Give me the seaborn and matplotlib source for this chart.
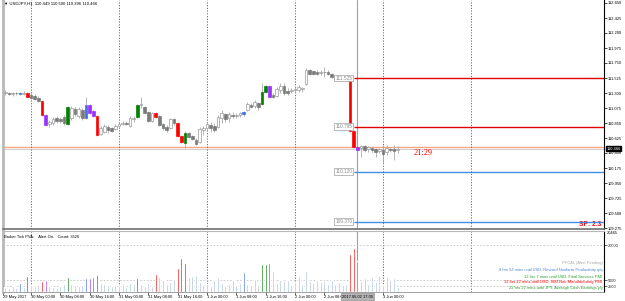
import numpy as np
import pandas as pd
import matplotlib
matplotlib.use('Agg')
import matplotlib.pyplot as plt
import matplotlib.transforms as mtrans
import seaborn as sns

# USDJPY H1 candles (bar 0 = 29 May 17:00)
opens = [111.300, 111.300, 111.285, 111.300, 111.300, 111.285, 111.300, 111.270, 111.255, 111.225,
         111.180, 110.970, 110.835, 110.850, 110.925, 110.910, 110.940, 110.835, 110.925, 111.060,
         110.955, 111.045, 110.925, 111.120, 111.030, 110.955, 110.685, 110.715, 110.790, 110.775,
         110.760, 110.805, 110.835, 110.850, 110.805, 110.910, 110.940, 111.120, 111.090, 111.015,
         110.880, 111.000, 110.955, 110.835, 110.790, 110.775, 110.910, 110.850, 110.655, 110.550,
         110.700, 110.655, 110.595, 110.565, 110.745, 110.775, 110.820, 110.805, 110.790, 110.925,
         110.985, 110.925, 110.970, 110.955, 110.970, 110.985, 111.045, 111.120, 111.105, 111.150,
         111.135, 111.315, 111.405, 111.270, 111.255, 111.345, 111.405, 111.330, 111.330, 111.345,
         111.345, 111.360, 111.435, 111.645, 111.630, 111.615, 111.600, 111.615, 111.615, 111.585,
         111.555, 111.525, 111.510, 111.495, 111.525, 110.730, 110.490, 110.475, 110.505, 110.460,
         110.475, 110.460, 110.430, 110.445, 110.415, 110.460, 110.460, 110.449]
closes = [111.315, 111.285, 111.300, 111.295, 111.285, 111.300, 111.240, 111.225, 111.210, 111.180,
          110.970, 110.820, 110.865, 110.910, 110.880, 110.880, 110.850, 111.090, 111.075, 110.985,
          111.060, 110.925, 111.120, 111.000, 110.955, 110.670, 110.775, 110.805, 110.745, 110.730,
          110.805, 110.835, 110.850, 110.835, 110.925, 110.925, 111.120, 111.135, 111.000, 110.880,
          111.000, 110.940, 110.820, 110.775, 110.745, 110.910, 110.850, 110.655, 110.565, 110.700,
          110.640, 110.610, 110.535, 110.760, 110.775, 110.835, 110.775, 110.745, 110.940, 111.000,
          110.910, 110.985, 110.955, 110.970, 111.000, 111.015, 111.135, 111.090, 111.165, 111.090,
          111.315, 111.405, 111.240, 111.240, 111.360, 111.405, 111.300, 111.300, 111.345, 111.360,
          111.390, 111.375, 111.645, 111.585, 111.585, 111.585, 111.615, 111.610, 111.585, 111.540,
          111.510, 111.495, 111.495, 111.510, 110.730, 110.490, 110.445, 110.505, 110.445, 110.490,
          110.445, 110.415, 110.460, 110.385, 110.475, 110.445, 110.430, 110.466]
highs = [111.345, 111.315, 111.315, 111.315, 111.315, 111.330, 111.315, 111.300, 111.285, 111.255,
         111.195, 110.985, 110.895, 110.940, 110.955, 110.940, 110.970, 111.105, 111.105, 111.090,
         111.090, 111.075, 111.240, 111.135, 111.045, 110.970, 110.805, 110.835, 110.820, 110.790,
         110.835, 110.865, 110.880, 110.880, 110.955, 110.955, 111.135, 111.240, 111.105, 111.030,
         111.015, 111.015, 110.970, 110.850, 110.820, 110.925, 110.925, 110.865, 110.670, 110.730,
         110.715, 110.670, 110.625, 110.790, 110.805, 110.865, 110.865, 110.850, 110.970, 111.045,
         111.000, 111.015, 111.015, 111.000, 111.015, 111.030, 111.165, 111.150, 111.195, 111.165,
         111.450, 111.420, 111.420, 111.300, 111.390, 111.450, 111.450, 111.375, 111.375, 111.390,
         111.420, 111.390, 111.675, 111.660, 111.645, 111.645, 111.645, 111.690, 111.645, 111.600,
         111.570, 111.570, 111.540, 111.540, 111.540, 110.745, 110.505, 110.520, 110.520, 110.505,
         110.490, 110.475, 110.475, 110.520, 110.520, 110.490, 110.520, 110.500]
lows = [111.270, 111.270, 111.255, 111.270, 111.270, 111.270, 111.235, 111.210, 111.195, 111.165,
        110.955, 110.805, 110.790, 110.820, 110.850, 110.850, 110.820, 110.820, 110.895, 110.955,
        110.925, 110.895, 110.910, 110.985, 110.940, 110.655, 110.670, 110.700, 110.700, 110.715,
        110.745, 110.790, 110.820, 110.820, 110.790, 110.865, 110.925, 111.075, 110.985, 110.865,
        110.865, 110.925, 110.805, 110.745, 110.715, 110.760, 110.820, 110.640, 110.550, 110.475,
        110.625, 110.595, 110.520, 110.550, 110.670, 110.730, 110.715, 110.715, 110.775, 110.850,
        110.865, 110.865, 110.925, 110.925, 110.940, 110.955, 111.030, 111.075, 111.075, 111.045,
        111.120, 111.300, 111.225, 111.225, 111.240, 111.300, 111.270, 111.270, 111.300, 111.300,
        111.315, 111.315, 111.420, 111.570, 111.570, 111.570, 111.570, 111.540, 111.570, 111.525,
        111.495, 111.480, 111.480, 111.480, 110.715, 110.475, 110.440, 110.340, 110.415, 110.415,
        110.415, 110.340, 110.400, 110.250, 110.370, 110.415, 110.295, 110.396]
volumes = [2200, 1800, 2500, 1600, 3800, 2000, 6800, 3000, 2400, 2800,
           4700, 5100, 2600, 2200, 1900, 2500, 3200, 6400, 3400, 2900,
           2500, 3000, 6000, 6000, 6400, 7200, 4000, 3300, 2800, 2400,
           3000, 2600, 3600, 2200, 3800, 3200, 6000, 3400, 2700, 3900,
           2600, 7700, 6400, 5200, 3300, 4200, 5500, 10200, 14500, 12300,
           6500, 7000, 7200, 4300, 2800, 3300, 2600, 5200, 6600, 3900,
           2700, 3600, 5200, 3000, 3800, 8500, 3500, 2900, 5500, 2800,
           11900, 11900, 12300, 8900, 3700, 5300, 4600, 5200, 3000, 4200,
           6800, 3600, 8900, 4500, 3800, 5200, 4100, 4700, 3500, 5000,
           3200, 4300, 2800, 3600, 16200, 18700, 13200, 4500, 6000, 3200,
           6300, 4200, 6800, 3000, 6200, 5000, 5800, 2000]
# PVA class of every bar: n normal, r red, g green, b blue, p purple
bar_kinds = list("nnnnbnrnnn" "rpnnnnngnn" "nnbpprnnnn" "nnnnnngnnn" "nrnnnnnrrg"
                 "nnnnnnnnnn" "nnnnnbnnnn" "ggpnnnnnnn" "nnnnnnnnnn" "nnnnrrpnnn" "nnnnnnnn")

kind_colors = {'n': '#a9bfdc', 'r': '#ff0000', 'g': '#008000', 'b': '#3a6ee8', 'p': '#9b30ff'}

time_bars = [-0.5, 7, 15, 23, 31, 39, 47, 55, 63, 71, 79, 87, 103]
time_labels = ['29 May 2017', '30 May 00:00', '30 May 08:00', '30 May 16:00', '31 May 00:00',
               '31 May 08:00', '31 May 16:00', '1 Jun 00:00', '1 Jun 08:00', '1 Jun 16:00',
               '2 Jun 00:00', '2 Jun 08:00', '3 Jun 00:00']
day_breaks = [7, 31, 55, 79, 103, 127]
cursor_bar = 96
cursor_label = '2017.06.02 17:00'

level_prices = [111.525, 110.795, 110.120, 109.370]
level_labels = ['111.525', '110.795', '110.120', '109.370']
level_colors = ['#e00000', '#e00000', '#3f8fe8', '#3f8fe8']

price_ticks = [109.275, 109.500, 109.725, 109.950, 110.175, 110.400, 110.625, 110.850,
               111.075, 111.300, 111.525, 111.750, 111.975, 112.200, 112.425, 112.650]
bid_price = 110.466
vol_ticks = [20000, 5000, 2500]
vol_top_label = '20465'

news_lines = ['PFCAL (Alert Pending)',
              '8 hrs 52 mins until USD: Revised Nonfarm Productivity q/q',
              '12 hrs 7 mins until USD: Final Services PMI',
              '12 hrs 22 mins until USD: ISM Non-Manufacturing PMI',
              '22 hrs 22 mins until JPY: Average Cash Earnings y/y']
news_colors = ['#a8a8a8', '#4a7fd4', '#22a022', '#ff0000', '#22a022']

sns.set_theme(style='white')
plt.rcParams['font.family'] = ['Liberation Sans', 'DejaVu Sans']

W, H = 625, 301
fig = plt.figure(figsize=(W / 100, H / 100), dpi=100)
fig.patch.set_facecolor('white')
ax = fig.add_axes([3 / W, 1 - 229 / H, 601 / W, 229 / H])
axv = fig.add_axes([3 / W, 1 - 292 / H, 601 / W, 61 / H])

x0, x1 = -0.63, 163.27
idx = np.arange(len(opens))

# candles
o = np.array(opens)
c = np.array(closes)
ax.vlines(idx, lows, highs, color='#a8a8a8', lw=0.6, zorder=2)
for i in idx:
    k = bar_kinds[i]
    body = max(abs(c[i] - o[i]), 0.004)
    bottom = min(o[i], c[i])
    if k != 'n':
        fc, ec = kind_colors[k], kind_colors[k]
    elif c[i] >= o[i]:
        fc, ec = 'white', '#9a9a9a'
    else:
        fc, ec = '#7a7a7a', '#7a7a7a'
    ax.bar(i, body, bottom=bottom, width=0.68, color=fc, edgecolor=ec, lw=0.5, zorder=3)

ax.set_xlim(x0, x1)
ax.set_ylim(109.26, 112.695)

# bid / ask lines
ax.axhline(110.486, color='#f4a582', lw=1.0, zorder=1)
ax.axhline(bid_price, color='#c8c8c8', lw=0.6, zorder=1)

# levels with their price boxes
for p, lab, col in zip(level_prices, level_labels, level_colors):
    ax.hlines(p, 95, x1, color=col, lw=1.0, zorder=4)
    ax.text(94.6, p, lab, ha='right', va='center', fontsize=3.4, color='#8a8a8a',
            bbox=dict(fc='white', ec='#a0a0a0', lw=0.5, pad=0.6), zorder=5)

for b in day_breaks:
    ax.axvline(b, color='#6a6a6a', lw=0.7, ls=(0, (1.2, 1.6)), zorder=1)
    axv.axvline(b, color='#6a6a6a', lw=0.7, ls=(0, (1.2, 1.6)), zorder=1)
ax.axvline(cursor_bar, color='#a0a0a0', lw=0.8, zorder=1)
axv.axvline(cursor_bar, color='#a0a0a0', lw=0.8, zorder=1)

ax.text(114, 110.40, '21:29', color='#ff0000', fontsize=6, ha='center', va='center',
        family=['Liberation Serif', 'DejaVu Serif'])
ax.text(162.6, 109.33, 'SP: 2.3', color='#ff0000', fontsize=4.8, fontweight='bold',
        ha='right', va='center')

# right price scale
ax.yaxis.tick_right()
ax.set_yticks(price_ticks)
ax.set_yticklabels([f'{t:.3f}' for t in price_ticks])
ax.tick_params(axis='y', labelsize=2.9, length=2, width=0.5, pad=1, colors='black', right=True)
ax.set_xticks([])
ax.text(1.004, bid_price, f'{bid_price:.3f}', transform=mtrans.blended_transform_factory(ax.transAxes, ax.transData),
        ha='left', va='center', fontsize=2.9, color='white',
        bbox=dict(fc='black', ec='black', pad=0.6), clip_on=False)

ax.spines['top'].set_visible(False)
ax.spines['left'].set_color('#b8b8b8')
ax.spines['left'].set_linewidth(2)
ax.spines['right'].set_color('black')
ax.spines['right'].set_linewidth(0.8)
ax.spines['bottom'].set_color('#707070')
ax.spines['bottom'].set_linewidth(1.2)

fig.text(4 / W, 1 - 3.5 / H, '\u25bc USDJPY,H1  110.449 110.500 110.396 110.466',
         fontsize=3.1, ha='left', va='center', color='black')

# volume panel
vol_df = pd.DataFrame({'bar': idx, 'volume': volumes, 'kind': bar_kinds})
sns.barplot(data=vol_df, x='bar', y='volume', hue='kind', palette=kind_colors,
            dodge=False, native_scale=True, width=0.62, saturation=1,
            errorbar=None, legend=False, ax=axv, zorder=3)
axv.set_xlim(x0, x1)
axv.set_ylim(0, 26000)
axv.set_xlabel('')
axv.set_ylabel('')
for v in vol_ticks:
    axv.axhline(v, color='#c4c4c4', lw=0.6, ls=(0, (2, 2)), zorder=1)
axv.yaxis.tick_right()
axv.set_yticks(vol_ticks)
axv.set_yticklabels([str(v) for v in vol_ticks])
axv.tick_params(axis='y', labelsize=2.9, length=2, width=0.5, pad=1, right=True)
axv.text(1.004, 0.97, vol_top_label, transform=axv.transAxes, ha='left', va='center',
         fontsize=2.9, color='black')
axv.set_xticks(time_bars)
axv.set_xticklabels([])
axv.tick_params(axis='x', length=2, width=0.5, bottom=True, direction='out')

for s in ['left', 'top']:
    axv.spines[s].set_color('#b8b8b8')
axv.spines['left'].set_linewidth(2)
axv.spines['top'].set_linewidth(0.8)
axv.spines['right'].set_color('black')
axv.spines['right'].set_linewidth(0.8)
axv.spines['bottom'].set_color('#909090')
axv.spines['bottom'].set_linewidth(0.6)

axv.text(0.002, 0.9, 'Broker Tick PVA:    Alert On.   Count: 3526', transform=axv.transAxes,
         fontsize=2.9, ha='left', va='center', color='black')
news_y = [263, 270.5, 276.5, 282, 287.5]
for txt, col, y in zip(news_lines, news_colors, news_y):
    fig.text(602.5 / W, 1 - y / H, txt, color=col, fontsize=2.9, ha='right', va='center')

tx = mtrans.blended_transform_factory(axv.transData, axv.transAxes)
for b, lab in zip(time_bars, time_labels):
    axv.text(b, -0.075, lab, transform=tx, ha='left', va='center', fontsize=2.9,
             color='black', clip_on=False, zorder=4)
# cursor date box sits on top of the 2 Jun 08:00 label, as in the terminal
axv.text(cursor_bar, -0.075, cursor_label, transform=tx, ha='center', va='center',
         fontsize=2.9, color='black', clip_on=False, zorder=6,
         bbox=dict(fc='#b4b4b4', ec='#808080', lw=0.4, pad=0.8))

fig.savefig('out.png', dpi=100)
